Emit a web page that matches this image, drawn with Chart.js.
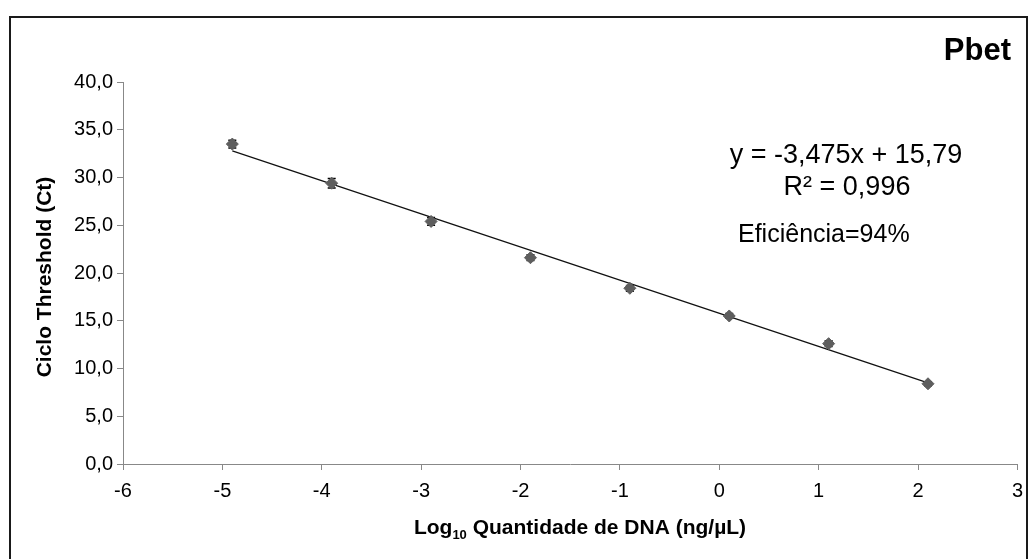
<!DOCTYPE html>
<html>
<head>
<meta charset="utf-8">
<script src="https://cdn.jsdelivr.net/npm/chart.js@4.4.0/dist/chart.umd.min.js"></script>
<style>
    html, body { margin: 0; padding: 0; background: #fff; }
    #wrap { width: 1032px; height: 559px; position: relative; }
</style>
</head>
<body>
<div id="wrap"><canvas id="chart"></canvas></div>
<script>
//Dados - log10 da quantidade de DNA e Ct médio
const logQtd = [-4.9, -3.9, -2.9, -1.9, -0.9, 0.1, 1.1, 2.1];
const ctMedio = [33.5, 29.4, 25.4, 21.6, 18.4, 15.5, 12.6, 8.4];
const ctErro = [0.4, 0.5, 0.4, 0.3, 0.3, 0.25, 0.3, 0.2];

//Reta de tendência (pontas)
const retaX = [-4.9, 2.1];
const retaY = [32.8, 8.5];

//Marcas dos eixos
const xTicks = [-6, -5, -4, -3, -2, -1, 0, 1, 2, 3];
const yTicks = [0, 5, 10, 15, 20, 25, 30, 35, 40];

const FONTE = "'Liberation Sans', Arial, sans-serif";

//Moldura, barras de erro e textos
const extras = {
    id: 'extras',
    beforeDraw(chart) {
        const c = chart.ctx;
        c.save();
        c.fillStyle = '#fff';
        c.fillRect(0, 0, chart.width, chart.height);
        c.strokeStyle = '#1a1a1a';
        c.lineWidth = 2;
        c.strokeRect(10, 17, 1017, 560);
        c.restore();
    },
    beforeDatasetsDraw(chart) {
        const c = chart.ctx, xs = chart.scales.x, ys = chart.scales.y;
        c.save();
        c.strokeStyle = '#000';
        c.lineWidth = 1.5;
        logQtd.forEach((x, i) => {
            const px = xs.getPixelForValue(x);
            const top = ys.getPixelForValue(ctMedio[i] + ctErro[i]);
            const bot = ys.getPixelForValue(ctMedio[i] - ctErro[i]);
            c.beginPath();
            c.moveTo(px, top); c.lineTo(px, bot);
            c.moveTo(px - 4, top); c.lineTo(px + 4, top);
            c.moveTo(px - 4, bot); c.lineTo(px + 4, bot);
            c.stroke();
        });
        c.restore();
    },
    afterDraw(chart) {
        const c = chart.ctx;
        c.save();
        c.fillStyle = '#000';
        c.textBaseline = 'alphabetic';

        c.font = 'bold 31px ' + FONTE;
        c.textAlign = 'right';
        c.fillText('Pbet', 1011, 60);

        c.font = '27px ' + FONTE;
        c.textAlign = 'center';
        c.fillText('y = -3,475x + 15,79', 846, 163);
        c.fillText('R² = 0,996', 847, 195);

        c.font = '25px ' + FONTE;
        c.textAlign = 'left';
        c.fillText('Eficiência=94%', 738, 242);

        //Título do eixo x com subscrito
        const a = 'Log', sub = '10', b = ' Quantidade de DNA (ng/µL)';
        c.font = 'bold 21px ' + FONTE;
        const wa = c.measureText(a).width, wb = c.measureText(b).width;
        c.font = 'bold 13px ' + FONTE;
        const ws = c.measureText(sub).width;
        let x0 = 580 - (wa + ws + wb) / 2;
        c.font = 'bold 21px ' + FONTE;
        c.fillText(a, x0, 534);
        c.font = 'bold 13px ' + FONTE;
        c.fillText(sub, x0 + wa, 539);
        c.font = 'bold 21px ' + FONTE;
        c.fillText(b, x0 + wa + ws, 534);

        //Título do eixo y
        c.translate(45, 277);
        c.rotate(-Math.PI / 2);
        c.textAlign = 'center';
        c.textBaseline = 'middle';
        c.font = 'bold 21px ' + FONTE;
        c.fillText('Ciclo Threshold (Ct)', 0, 0);
        c.restore();
    }
};

const ctx = document.querySelector('#chart').getContext('2d');
const chart = new Chart(ctx, {
    type: 'scatter',
    data: {
        datasets: [
            {
                data: logQtd.map((x, i) => ({x: x, y: ctMedio[i]})),
                pointStyle: 'rectRot',
                pointRadius: 6,
                backgroundColor: '#5e5e5e',
                borderColor: '#5e5e5e',
                borderWidth: 1
            },
            {
                data: retaX.map((x, i) => ({x: x, y: retaY[i]})),
                showLine: true,
                pointRadius: 0,
                borderColor: '#111',
                borderWidth: 1.3
            }
        ]
    },
    options: {
        responsive: true,
        maintainAspectRatio: false,
        animation: false,
        layout: {padding: {left: 0, right: 12, top: 82, bottom: 0}},
        scales: {
            x: {
                type: 'linear',
                min: -6,
                max: 3,
                afterFit: s => { s.height = 95; },
                afterBuildTicks: s => { s.ticks = xTicks.map(v => ({value: v})); },
                grid: {drawOnChartArea: false, tickLength: 6, color: '#888'},
                border: {color: '#888', width: 1},
                ticks: {
                    color: '#000',
                    padding: 9,
                    maxRotation: 0,
                    font: {family: FONTE, size: 20},
                    callback: v => String(v)
                }
            },
            y: {
                min: 0,
                max: 40,
                afterFit: s => { s.width = 123; },
                afterBuildTicks: s => { s.ticks = yTicks.map(v => ({value: v})); },
                grid: {drawOnChartArea: false, tickLength: 6, color: '#888'},
                border: {color: '#888', width: 1},
                ticks: {
                    color: '#000',
                    padding: 4,
                    font: {family: FONTE, size: 20},
                    callback: v => v.toFixed(1).replace('.', ',')
                }
            }
        },
        plugins: {
            legend: {display: false},
            tooltip: {enabled: false}
        }
    },
    plugins: [extras]
});
</script>
</body>
</html>
